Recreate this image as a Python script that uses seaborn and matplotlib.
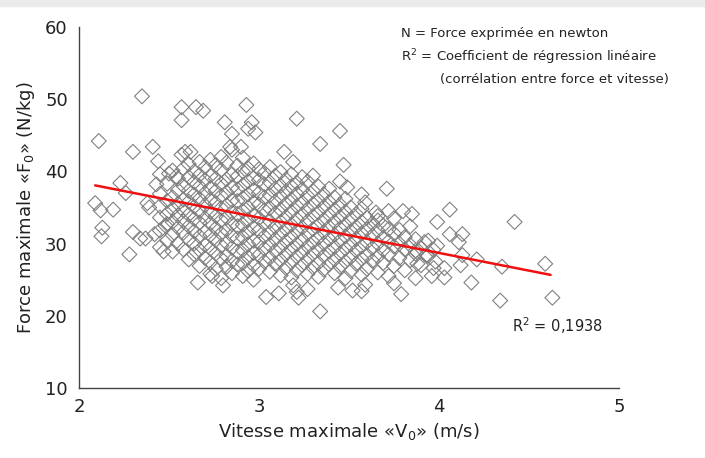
import numpy as np
import pandas as pd
import matplotlib
matplotlib.use("Agg")
import matplotlib.pyplot as plt
import seaborn as sns
from matplotlib.patches import Rectangle

# points isolés (bords du nuage)
v_bord = [2.35, 2.11, 2.09, 2.12, 2.13, 2.125, 2.19, 2.23, 2.26, 2.30, 2.28, 2.30,
          2.34, 2.37, 2.41, 2.44, 2.43, 2.38, 2.39, 2.42, 2.47, 2.48, 2.50, 2.54,
          2.57, 2.57, 2.59, 2.57, 2.62, 2.65, 2.69, 2.66, 2.81, 2.85, 2.84, 2.90,
          2.93, 2.96, 2.94, 2.98, 2.74, 2.80, 3.14, 3.19, 3.21, 3.34, 3.45, 3.47,
          3.45, 3.49, 3.04, 3.11, 3.19, 3.21, 3.22, 3.27, 3.34, 3.44, 3.52, 3.57,
          3.59, 3.71, 3.57, 3.59, 3.65, 3.66, 3.72, 3.80, 3.85, 3.99, 4.06, 4.06,
          4.13, 4.11, 4.13, 4.12, 4.18, 4.21, 4.35, 4.42, 4.34, 4.59, 4.63, 3.87,
          3.79, 3.75, 3.96, 4.03, 3.98, 3.93, 3.88, 4.03, 3.99, 3.92, 3.87]
f_bord = [50.4, 44.2, 35.6, 34.6, 32.2, 31.0, 34.7, 38.4, 37.0, 42.7, 28.5, 31.6,
          30.7, 30.7, 43.4, 41.4, 38.2, 35.6, 35.0, 31.3, 28.9, 32.5, 39.7, 39.3,
          48.9, 47.1, 42.7, 42.3, 42.7, 48.9, 48.4, 24.6, 46.8, 45.2, 43.4, 43.4,
          49.2, 46.8, 45.9, 45.4, 25.5, 24.2, 42.7, 41.3, 47.3, 43.8, 45.6, 40.9,
          38.6, 37.8, 22.6, 23.1, 24.2, 23.3, 22.5, 23.7, 20.6, 23.9, 23.5, 23.4,
          24.3, 37.6, 36.8, 35.7, 34.3, 33.8, 34.5, 34.5, 34.1, 33.0, 34.7, 31.3,
          31.3, 30.2, 28.4, 27.0, 24.6, 27.8, 26.8, 33.0, 22.1, 27.2, 22.5, 25.2,
          23.0, 24.5, 25.5, 25.3, 27.5, 28.4, 27.2, 26.6, 29.7, 30.2, 29.0]

# coeur du nuage, colonne par colonne (estimé)
colonnes = {
    2.45: [29.5, 31.8, 33.6, 35.2, 36.9, 39.6],
    2.49: [30.4, 32.7, 34.1, 35.9, 38.3],
    2.52: [28.9, 31.2, 33.0, 34.8, 36.4, 40.1],
    2.55: [30.0, 32.2, 33.9, 35.5, 37.4, 39.0],
    2.58: [29.2, 31.5, 33.1, 34.6, 36.1, 38.0, 40.4],
    2.61: [27.8, 30.6, 32.4, 34.0, 35.8, 37.3, 39.2, 41.0],
    2.64: [28.5, 30.0, 31.7, 33.4, 35.1, 36.8, 38.5, 40.0],
    2.67: [26.9, 29.1, 31.0, 32.9, 34.5, 36.2, 37.9, 39.5, 41.3],
    2.70: [28.0, 29.8, 31.6, 33.5, 35.3, 37.0, 38.8, 40.6],
    2.73: [25.8, 27.4, 29.3, 31.2, 32.8, 34.4, 36.1, 37.7, 39.4, 41.6],
    2.76: [26.5, 28.6, 30.5, 32.1, 33.8, 35.6, 37.3, 39.0, 40.9],
    2.79: [25.2, 27.9, 29.7, 31.4, 33.2, 34.9, 36.6, 38.3, 40.2, 42.0],
    2.82: [26.8, 28.3, 30.1, 31.9, 33.6, 35.3, 37.1, 38.9, 41.2],
    2.85: [25.9, 27.6, 29.4, 31.1, 32.7, 34.3, 36.0, 37.8, 39.6, 43.0],
    2.88: [27.1, 28.9, 30.7, 32.4, 34.1, 35.9, 37.5, 39.3, 40.8],
    2.91: [25.5, 27.3, 29.1, 30.9, 32.6, 34.5, 36.3, 38.1, 40.0, 41.9],
    2.94: [26.2, 28.1, 29.9, 31.6, 33.3, 35.0, 36.8, 38.6, 40.4],
    2.97: [25.0, 27.0, 28.7, 30.4, 32.2, 33.9, 35.7, 37.4, 39.1, 41.1],
    3.00: [26.5, 28.4, 30.2, 31.8, 33.5, 35.4, 37.0, 38.8, 40.3],
    3.03: [27.5, 29.3, 31.0, 32.8, 34.6, 36.4, 38.2, 39.8],
    3.06: [26.1, 28.0, 29.8, 31.5, 33.1, 34.9, 36.7, 38.5, 40.6],
    3.09: [27.2, 29.0, 30.6, 32.3, 34.2, 35.8, 37.6, 39.4],
    3.12: [25.6, 27.7, 29.5, 31.3, 33.0, 34.7, 36.5, 38.0, 39.9],
    3.15: [26.6, 28.5, 30.3, 32.0, 33.7, 35.5, 37.2, 38.9],
    3.18: [25.3, 27.4, 29.2, 30.9, 32.6, 34.4, 36.1, 37.9, 39.6],
    3.21: [26.3, 28.2, 29.9, 31.7, 33.4, 35.2, 36.9, 38.4],
    3.24: [27.0, 28.8, 30.5, 32.2, 34.0, 35.7, 37.5, 39.2],
    3.27: [25.8, 27.8, 29.6, 31.4, 33.1, 34.8, 36.6, 38.6],
    3.30: [26.7, 28.6, 30.2, 32.0, 33.8, 35.5, 37.3, 39.4],
    3.33: [25.4, 27.3, 29.1, 30.8, 32.5, 34.3, 36.0, 37.9],
    3.36: [26.4, 28.3, 30.0, 31.6, 33.3, 35.1, 36.8],
    3.39: [27.1, 28.9, 30.6, 32.3, 34.0, 35.8, 37.6],
    3.42: [25.9, 27.8, 29.5, 31.2, 33.0, 34.7, 36.4],
    3.45: [26.8, 28.6, 30.4, 32.1, 33.7, 35.4],
    3.48: [25.2, 27.5, 29.3, 31.0, 32.6, 34.4, 36.2],
    3.51: [26.2, 28.1, 29.9, 31.7, 33.4, 35.0],
    3.54: [27.2, 29.0, 30.7, 32.3, 34.1],
    3.57: [25.7, 27.9, 29.6, 31.4, 33.0, 34.8],
    3.60: [26.5, 28.4, 30.2, 32.0, 33.6],
    3.63: [27.6, 29.4, 31.1, 32.8],
    3.66: [26.0, 28.2, 30.0, 31.8, 33.2],
    3.69: [27.3, 29.1, 30.8, 32.5],
    3.72: [25.5, 28.5, 30.3, 32.0],
    3.75: [26.9, 29.6, 31.4, 33.5],
    3.78: [28.0, 30.0, 31.9],
    3.81: [26.3, 29.2, 30.9],
    3.84: [27.7, 29.8, 32.4],
    3.87: [28.6, 30.6],
    3.90: [27.0, 29.4],
    3.94: [28.3, 30.4],
    3.97: [26.6, 29.1],
}

# droite de régression
pente = -4.9
ordonnee = 48.3
v_droite = [2.09, 4.62]

v_nuage = [v for v, fs in colonnes.items() for f in fs]
f_nuage = [f for v, fs in colonnes.items() for f in fs]
df = pd.DataFrame({"V0": v_bord + v_nuage, "F0": f_bord + f_nuage})

sns.set_style("white")
plt.rcParams["font.family"] = ["DejaVu Sans"]

fig = plt.figure(figsize=(7.05, 4.58), dpi=100)
ax = fig.add_axes([0.112, 0.153, 0.766, 0.788])
fig.patches.append(Rectangle((0, 1 - 6 / 458), 1, 6 / 458, transform=fig.transFigure,
                             color="#ebebeb", zorder=0))

sns.scatterplot(data=df, x="V0", y="F0", marker="D", s=58, ax=ax, zorder=2)
pts = ax.collections[0]
pts.set_facecolor("none")
pts.set_edgecolor("#808080")
pts.set_linewidth(0.8)

droite = pd.DataFrame({"V0": v_droite, "F0": [ordonnee + pente * v for v in v_droite]})
sns.lineplot(data=droite, x="V0", y="F0", color="#f01010", lw=1.8, ax=ax, zorder=3)

ax.set_xlim(2, 5)
ax.set_ylim(10, 60)
ax.set_xticks([2, 3, 4, 5])
ax.set_yticks([10, 20, 30, 40, 50, 60])
sns.despine(ax=ax)
for s in ["left", "bottom"]:
    ax.spines[s].set_color("#444444")
    ax.spines[s].set_linewidth(1.0)
ax.tick_params(axis="x", direction="inout", length=10, width=1, color="#444444",
               labelsize=13, pad=2, labelcolor="#222222")
ax.tick_params(axis="y", direction="out", length=8, width=1, color="#444444",
               labelsize=13, pad=0, labelcolor="#222222")

ax.set_xlabel("Vitesse maximale «V$_0$» (m/s)", fontsize=13, color="#222222", labelpad=4)
ax.set_ylabel("Force maximale «F$_0$» (N/kg)", fontsize=13, color="#222222", labelpad=6)

fig.text(401 / 705, 1 - 33 / 458, "N = Force exprimée en newton", fontsize=9.5,
         va="center", ha="left", color="#222222")
fig.text(401 / 705, 1 - 57 / 458, "R$^2$ = Coefficient de régression linéaire", fontsize=9.5,
         va="center", ha="left", color="#222222")
fig.text(440 / 705, 1 - 80 / 458, "(corrélation entre force et vitesse)", fontsize=9.5,
         va="center", ha="left", color="#222222")
fig.text(512 / 705, 1 - 326 / 458, "R$^2$ = 0,1938", fontsize=10.5,
         va="center", ha="left", color="#222222")

fig.savefig("out.png", dpi=100, facecolor="white")
